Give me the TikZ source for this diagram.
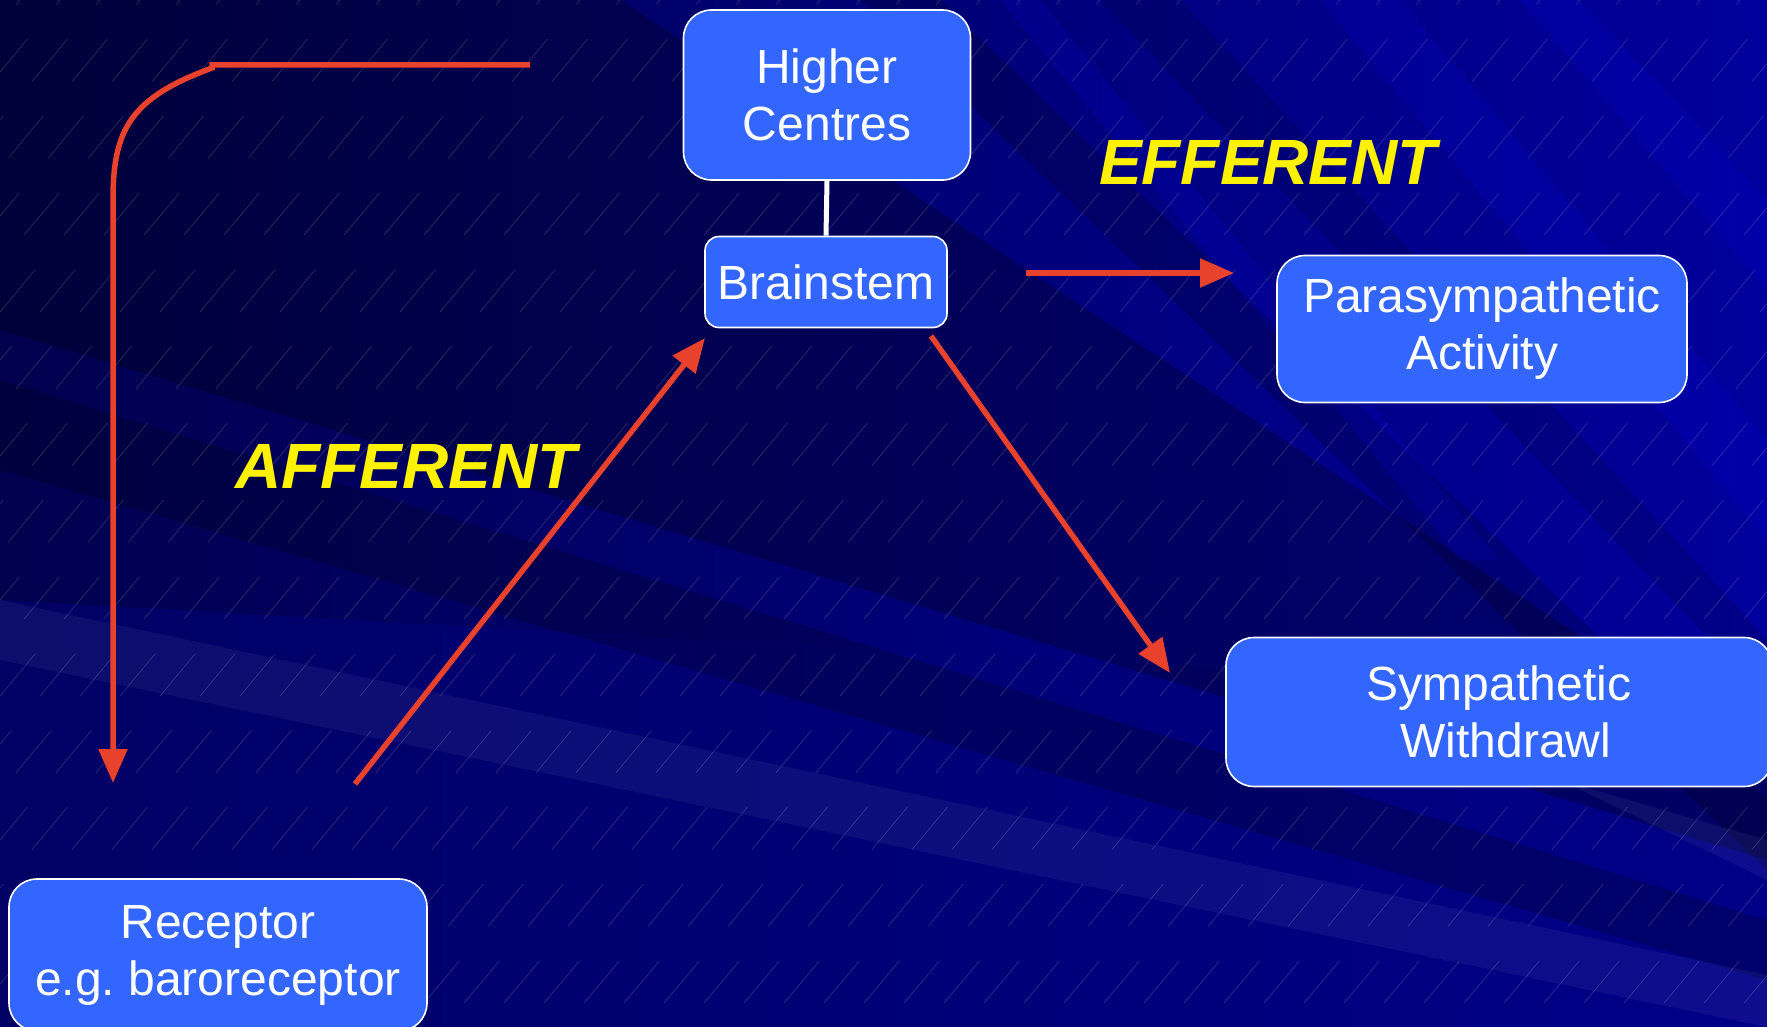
\documentclass[tikz,border=0pt]{standalone}
\usepackage{fontspec}
\setmainfont{Liberation Sans}
\usetikzlibrary{arrows.meta,calc}
\definecolor{boxblue}{HTML}{3366FF}
\definecolor{arrred}{HTML}{E8412C}
\definecolor{bgdark}{HTML}{00004E}
\definecolor{bgmid}{HTML}{000078}
\definecolor{bglight}{HTML}{00009C}
\begin{document}
\begin{tikzpicture}[x=1pt,y=-1pt,
  box/.style={draw=white, line width=1.6pt, fill=boxblue, rounded corners=28pt,
    text=white, align=center, inner sep=0pt,
    font=\fontsize{48}{57}\selectfont},
  arr/.style={draw=arrred, line width=5.5pt, -{Triangle[length=34pt,width=28pt]}},
  lab/.style={text=yellow, font=\fontsize{64}{70}\selectfont\bfseries\itshape},
  hatch/.style={white, opacity=0.16, line width=0.7pt, dash pattern=on 55pt off 45pt}]
\useasboundingbox (0,0) rectangle (1767,1027);
% background
\begin{scope}
\clip (0,0) rectangle (1767,1027);
\shade[left color=bgdark, right color=bglight] (0,0) rectangle (1767,1027);
\fill[bgmid, opacity=0.55] (0,600) -- (0,1027) -- (1767,1027) -- (1767,700) -- cycle;
\fill[black, opacity=0.25] (0,0) -- (620,0) -- (1767,760) -- (1767,860) -- (0,330) -- cycle;
\fill[black, opacity=0.20] (0,380) -- (0,470) -- (1767,980) -- (1767,920) -- cycle;
\fill[black, opacity=0.18] (860,0) -- (940,0) -- (1767,800) -- (1767,870) -- cycle;
\fill[black, opacity=0.12] (1100,0) -- (1180,0) -- (1767,640) -- (1767,700) -- cycle;
\fill[white, opacity=0.05] (0,600) -- (0,660) -- (1767,1027) -- (1767,975) -- cycle;
\fill[blue, opacity=0.12] (1000,0) -- (1040,0) -- (1500,560) -- (1460,560) -- cycle;
\fill[blue, opacity=0.12] (1320,0) -- (1400,0) -- (1767,440) -- (1767,540) -- cycle;
\fill[blue, opacity=0.12] (1520,0) -- (1580,0) -- (1767,200) -- (1767,290) -- cycle;
\fill[white, opacity=0.05] (1560,780) -- (1767,880) -- (1767,840) -- cycle;
\foreach \i in {-1200,-1160,...,1800}
  \draw[hatch] (\i,1080) -- ++(1000,-1200);
\end{scope}
% nodes
\node[box, minimum width=287pt, minimum height=170pt] (hc) at (827,95) {Higher\\Centres};
\node[box, rounded corners=14pt, minimum width=242pt, minimum height=91pt] (bs) at (826,282) {Brainstem};
\node[box, minimum width=410pt, minimum height=147pt] (pa) at (1482,329) {Parasympathetic\\Activity};
\node[box, minimum width=546pt, minimum height=149pt] (sw) at (1499,712) {Sympathetic\\\ Withdrawl};
\node[box, minimum width=418pt, minimum height=152pt] (rc) at (218,955) {Receptor\\e.g.\ baroreceptor};
\draw[white, line width=5pt] (hc.south) -- (bs.north);
% labels
\node[lab] (aff) at (406,466) {AFFERENT};
\node[lab] (eff) at (1268,162) {EFFERENT};
% connector end points
\coordinate (loopS) at (530,65);
\coordinate (loopE) at (113,783);
\coordinate (affS) at (355,784);
\coordinate (affE) at (705,338);
\coordinate (effS) at (1026,273);
\coordinate (effE) at (1234,273);
\coordinate (swS) at (931,336);
\coordinate (swE) at (1170,673);
% arrows
\draw[arr] (loopS) -- (212,65) -- (212,68) .. controls (130,98) and (113,130) .. (113,200) -- (loopE);
\draw[arr] (affS) -- (affE);
\draw[arr] (effS) -- (effE);
\draw[arr] (swS) -- (swE);
\end{tikzpicture}
\end{document}
